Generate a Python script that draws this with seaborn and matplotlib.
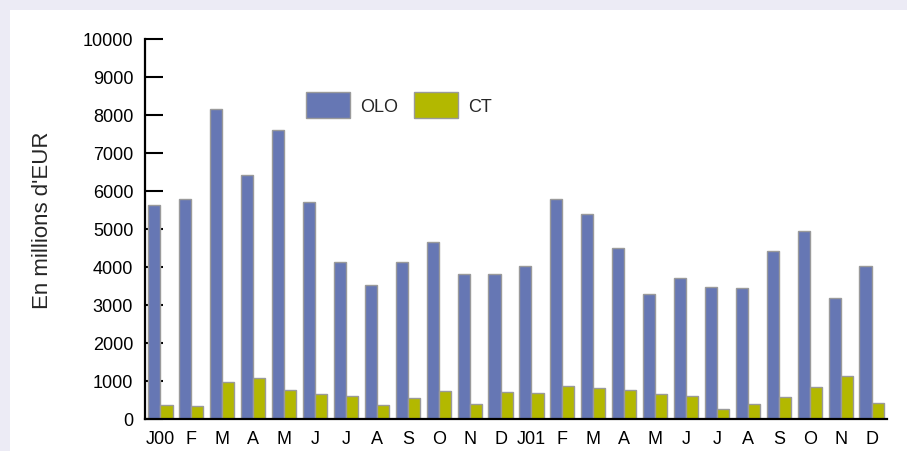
import matplotlib
matplotlib.use("Agg")
import matplotlib.pyplot as plt
import seaborn as sns
import pandas as pd

# Monthly amounts, January 2000 to December 2001 (millions of EUR)
periodes = [f"{y}-{m:02d}" for y in (2000, 2001) for m in range(1, 13)]
mois = ["J00", "F", "M", "A", "M", "J", "J", "A", "S", "O", "N", "D",
        "J01", "F", "M", "A", "M", "J", "J", "A", "S", "O", "N", "D"]
olo = [5640, 5800, 8150, 6430, 7600, 5720, 4120, 3535, 4120, 4660, 3820, 3820,
       4030, 5780, 5400, 4490, 3300, 3700, 3470, 3440, 4420, 4940, 3180, 4030]
ct = [368, 342, 965, 1070, 771, 658, 605, 377, 553, 728, 395, 700,
      690, 860, 825, 763, 658, 605, 263, 395, 570, 842, 1140, 413]
series = ["OLO", "CT"]
couleurs = {"OLO": "#6677B4", "CT": "#B3B800"}
yticks = list(range(0, 10001, 1000))

df = pd.DataFrame({
    "periode": periodes * 2,
    "serie": ["OLO"] * len(olo) + ["CT"] * len(ct),
    "valeur": olo + ct,
})

sns.set_theme(style="white")
plt.rcParams["font.family"] = ["Liberation Sans", "DejaVu Sans"]
FS = 13

fig = plt.figure(figsize=(9.07, 4.52), dpi=100, facecolor="#ECEBF5")
# white panel inside the lavender frame
panel = plt.Rectangle((10 / 907, 0), 1, 441 / 452, transform=fig.transFigure,
                      facecolor="white", edgecolor="none", zorder=-10)
fig.add_artist(panel)

ax = fig.add_axes([145 / 907, 32 / 452, 742 / 907, 380 / 452])
ax.set_facecolor("none")
ax.set_zorder(1)

sns.barplot(data=df, x="periode", y="valeur", hue="serie", hue_order=series,
            order=periodes, palette=couleurs, saturation=1, width=0.78,
            edgecolor="#9A9A9A", linewidth=1, errorbar=None, ax=ax)

ax.set_xlim(-0.5, len(periodes) - 0.5)
ax.set_ylim(0, 10000)
ax.set_yticks(yticks)
ax.set_yticklabels([str(v) for v in yticks], fontsize=FS)
ax.set_xticks(range(len(mois)))
ax.set_xticklabels(mois, fontsize=FS)
ax.set_xlabel("")
ax.set_ylabel("En millions d'EUR", fontsize=16)
ax.yaxis.set_label_coords(-0.124, 0.526)

for side in ("top", "right"):
    ax.spines[side].set_visible(False)
for side in ("left", "bottom"):
    ax.spines[side].set_color("black")
    ax.spines[side].set_linewidth(1.6)

ax.tick_params(axis="y", direction="in", length=13, width=1.5, color="black",
               pad=8.5, labelcolor="black", left=True)
ax.tick_params(axis="x", length=0, pad=8, labelcolor="black")

handles, labels = ax.get_legend_handles_labels()
ax.legend(handles, labels, loc="center left", bbox_to_anchor=(0.217, 0.826),
          ncol=2, frameon=False, fontsize=FS, handlelength=2.45, handleheight=1.85,
          handletextpad=0.55, columnspacing=0.85, borderpad=0, borderaxespad=0)

fig.savefig("out.png", dpi=100, facecolor=fig.get_facecolor())
